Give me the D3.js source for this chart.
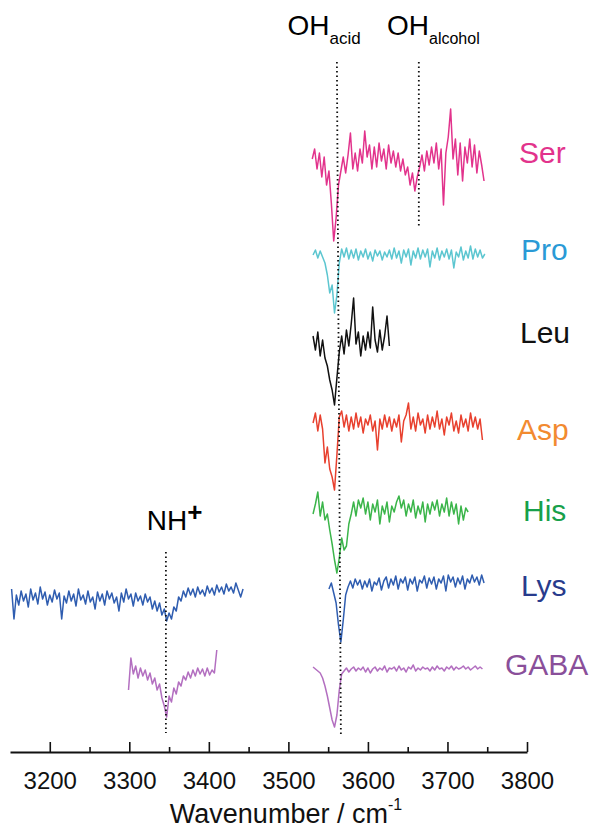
<!DOCTYPE html>
<html>
<head>
<meta charset="utf-8">
<script src="https://cdn.jsdelivr.net/npm/d3@7"></script>
<style>
  body { margin: 0; background: #fff; }
  svg text { font-family: "Liberation Sans", Arial, sans-serif; }
</style>
</head>
<body>
<div id="chart"></div>
<script>
// spectra sampled every 3 cm-1, values are relative to each trace's baseline (a.u.)
var step = 3;

var compounds = ["Ser", "Pro", "Leu", "Asp", "His", "Lys", "GABA"];
var offsets = [589, 497, 410, 327, 242, 167, 82];
var traceColors = ["#e2338c", "#5cc6d0", "#111111", "#e8402e", "#3bb54a", "#2f5db0", "#b36fc0"];
var labelColors = ["#e2338c", "#2a9ad6", "#111111", "#f28a30", "#17a04a", "#283b8c", "#8a4f9a"];

var serValues = [4, 14, -6, 10, -14, 6, -22, -8, -40, -78, -55, -22, -8, 6, -10, 8, 30, -6, 10, -8,
  14, 0, 32, 6, 18, -6, 16, -4, 20, 2, 14, -6, 18, 0, 12, -4, 10, -8, 4, -12,
  -4, -22, -10, -28, -14, -4, 8, -8, 12, -2, 16, 0, 20, -6, 14, -42, 10, 26, 54, 4,
  24, -12, 20, -18, 16, 0, 24, -4, 18, -10, 12, -2, -18];
var proValues = [0, 5, -3, 4, -2, -8, -20, -38, -30, -58, -40, -8, 6, -2, 7, -4, 5, -3, 6, -5,
  4, -2, 6, -4, 3, -6, 5, -1, 4, -5, 3, -2, 5, -4, 7, -3, 4, -8, 5, -2,
  6, -10, 4, -3, 7, -4, 5, -2, 6, -12, 4, -3, 7, -5, 4, -2, 6, -4, 5, -13,
  3, -2, 8, -5, 4, -3, 9, -4, 6, -2, 5, -3, 1];
var leuValues = [6, -8, 10, -14, 2, -16, -24, -38, -48, -63, -36, -10, 6, -12, 12, -4, 18, 44, -2, 10,
  -14, 6, -8, 10, -6, 35, 2, -10, 12, -8, 6, 26, -4];
var aspValues = [2, 12, -6, 10, -4, -38, -22, -44, -52, -65, -30, 8, 14, -2, 10, -6, 8, -4, 12, -2,
  8, -8, 6, 0, 10, -6, 4, -25, 6, -4, 10, -2, 8, -6, 6, -2, 10, -17, 4, 10,
  22, -4, 8, -6, 12, 0, 6, -8, 10, -4, 8, -2, 14, -4, 6, -10, 8, 0, 12, -6,
  4, -8, 10, -2, 6, -6, 12, -2, 8, -4, 6, -15];
var hisValues = [-4, 6, 18, -6, 8, -10, -4, -20, -34, -50, -63, -48, -28, -40, -36, -14, -4, 8, -6, 10,
  2, 12, -4, 8, -10, 6, -2, 10, -14, 4, -4, 8, -12, 4, -2, 8, 14, 2, 10, -6,
  6, -2, 10, -8, 4, -4, 8, -12, 6, -4, 8, 0, 10, -6, 6, -2, 12, -6, 8, -4,
  6, -14, 4, -10, 2, -2];
var lysValues = [-4, 2, -8, -18, -40, -57, -35, -10, -2, 4, -3, 6, 0, 5, -4, 4, -2, 6, -6, 3,
  0, 7, -5, 4, 8, -3, 6, 0, 9, -4, 6, 2, 8, -5, 6, 1, 8, -6, 5, 2,
  9, -3, 7, 1, 8, -4, 6, 2, 9, -6, 10, 3, 8, -2, 7, 1, 9, -4, 6, 2,
  10, 3, 8, 0, 10, 2];
var lysNHValues = [-4, -34, -10, -20, -6, -16, -9, -22, -4, -15, -8, -19, -2, -14, -7, -20, -10, -17, -5, -14,
  -8, -34, -11, -18, -6, -16, -9, -21, -4, -15, -10, -19, -6, -17, -12, -24, -7, -16, -9, -20,
  -6, -14, -8, -18, -12, -26, -8, -17, -4, -14, -9, -21, -8, -16, -11, -20, -9, -17, -12, -24,
  -16, -26, -18, -30, -24, -36, -28, -34, -22, -26, -12, -16, -6, -12, -3, -10, -4, -12, -2, -9,
  -5, -11, -1, -8, -3, -10, 0, -7, -2, -9, 1, -6, -2, -8, 2, -5, -12, -4];
var gabaValues = [3, 1, -1, -3, -8, -16, -26, -38, -50, -57, -45, -20, -4, -1, 2, -2, 1, 3, -1, 2,
  0, 3, -2, 2, -3, 1, 3, -1, 2, 0, 4, -2, 2, 1, 3, -1, 4, 0, 2, -2,
  3, 1, 5, -1, 2, 0, 3, 1, 2, -1, 3, 0, 4, 1, 2, -1, 3, 1, 4, 0,
  3, 1, 2, 4, 1, 3, 0, 2, 4, 1, 3, 1];
var gabaNHValues = [-20, 12, -4, 4, -8, 2, -6, 0, -10, -3, -14, -8, -20, -14, -28, -36, -47, -26, -32, -18,
  -24, -12, -16, -6, -10, -2, -8, 0, -6, 2, -4, 1, -6, 2, -5, 0, -3, 20];

// which compound, first wavenumber, values
var segments = [
  {c: 0, start: 3530, values: serValues},
  {c: 1, start: 3531, values: proValues},
  {c: 2, start: 3531, values: leuValues},
  {c: 3, start: 3531, values: aspValues},
  {c: 4, start: 3531, values: hisValues},
  {c: 5, start: 3551, values: lysValues},
  {c: 5, start: 3152, values: lysNHValues},
  {c: 6, start: 3531, values: gabaValues},
  {c: 6, start: 3299, values: gabaNHValues}
];

// dotted guide lines: wavenumber at top / bottom, intensity at top / bottom
var guides = [
  {v0: 3561, v1: 3566, y0: 690, y1: 17},
  {v0: 3664, v1: 3664, y0: 690, y1: 524},
  {v0: 3346, v1: 3346, y0: 200, y1: 19}
];

var majorTicks = [3200, 3300, 3400, 3500, 3600, 3700, 3800];
var minorTicks = [3250, 3350, 3450, 3550, 3650, 3750];

var svgWidth = 590, svgHeight = 832;

var svg = d3.select("#chart")
  .append("svg")
  .attr("width", svgWidth)
  .attr("height", svgHeight);

var xScale = d3.scaleLinear().domain([3150, 3800]).range([10, 527]);
var yScale = d3.scaleLinear().domain([0, 700]).range([752, 52]);

// traces
var line = d3.line()
  .x(function(d) { return xScale(d[0]); })
  .y(function(d) { return yScale(d[1]); });

svg.append("g")
  .selectAll("path")
  .data(segments)
  .enter()
  .append("path")
    .attr("fill", "none")
    .attr("stroke", function(d) { return traceColors[d.c]; })
    .attr("stroke-width", 1.5)
    .attr("stroke-linejoin", "round")
    .attr("d", function(d) {
      return line(d.values.map(function(v, i) {
        return [d.start + i * step, offsets[d.c] + v];
      }));
    });

// dotted guides
svg.append("g")
  .selectAll("line")
  .data(guides)
  .enter()
  .append("line")
    .attr("x1", function(d) { return xScale(d.v0); })
    .attr("x2", function(d) { return xScale(d.v1); })
    .attr("y1", function(d) { return yScale(d.y0); })
    .attr("y2", function(d) { return yScale(d.y1); })
    .attr("stroke", "#111")
    .attr("stroke-width", 1.8)
    .attr("stroke-dasharray", "1.6 2.9");

// compound names
var labelX = [519, 521, 520, 517, 523, 521, 505];
var labelY = [163, 260, 343, 440, 521, 596, 675];
svg.append("g")
  .selectAll("text")
  .data(compounds)
  .enter()
  .append("text")
    .attr("x", function(d, i) { return labelX[i]; })
    .attr("y", function(d, i) { return labelY[i]; })
    .attr("font-size", 30)
    .attr("fill", function(d, i) { return labelColors[i]; })
    .text(function(d) { return d; });

// band labels
var ohAcid = svg.append("text").attr("x", xScale(3499)).attr("y", 35).attr("font-size", 28);
ohAcid.append("tspan").text("OH");
ohAcid.append("tspan").attr("font-size", 17).attr("dy", 9).text("acid");

var ohAlc = svg.append("text").attr("x", xScale(3624)).attr("y", 35).attr("font-size", 28);
ohAlc.append("tspan").text("OH");
ohAlc.append("tspan").attr("font-size", 16).attr("dy", 9).text("alcohol");

var nh = svg.append("text").attr("x", xScale(3322)).attr("y", 530).attr("font-size", 28);
nh.append("tspan").text("NH");
nh.append("tspan").attr("font-size", 26).attr("font-weight", "bold").attr("dy", -9).text("+");

// x axis
var xAxis = d3.axisBottom(xScale)
  .tickValues(majorTicks)
  .tickFormat(d3.format("d"))
  .tickSizeInner(-10)
  .tickSizeOuter(0)
  .tickPadding(20);

var xMinor = d3.axisBottom(xScale)
  .tickValues(minorTicks)
  .tickFormat("")
  .tickSizeInner(-5)
  .tickSizeOuter(0);

var axisG = svg.append("g")
  .attr("transform", "translate(0,752)")
  .call(xAxis);
axisG.selectAll("text").attr("font-size", 24).attr("fill", "#111").style("font-family", "Liberation Sans, Arial, sans-serif");
axisG.selectAll("line").attr("stroke", "#111").attr("stroke-width", 1.6);
axisG.select(".domain").attr("stroke", "#111").attr("stroke-width", 1.8);

var minorG = svg.append("g")
  .attr("transform", "translate(0,752)")
  .call(xMinor);
minorG.selectAll("line").attr("stroke", "#111").attr("stroke-width", 1.6);
minorG.select(".domain").remove();

var title = svg.append("text")
  .attr("x", 286)
  .attr("y", 823)
  .attr("text-anchor", "middle")
  .attr("font-size", 27)
  .attr("fill", "#111");
title.append("tspan").text("Wavenumber / cm");
title.append("tspan").attr("font-size", 16).attr("dy", -13).text("-1");
</script>
</body>
</html>
